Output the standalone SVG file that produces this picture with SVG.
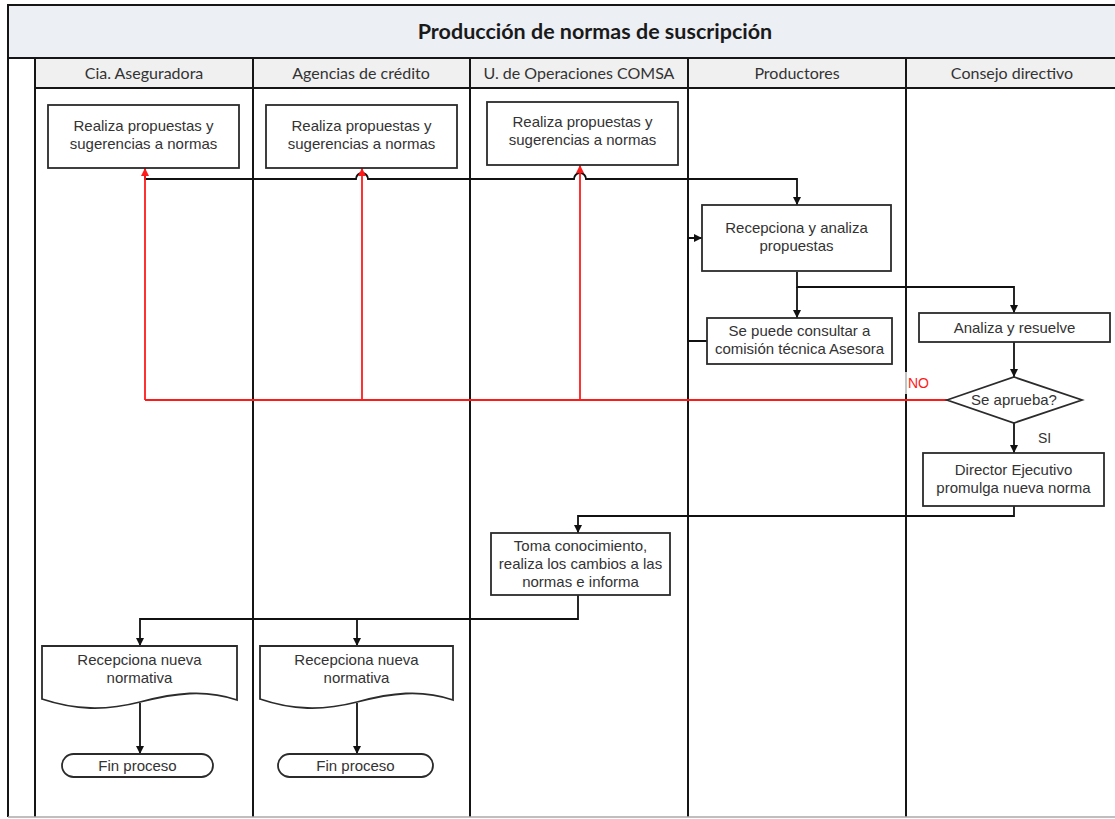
<svg xmlns="http://www.w3.org/2000/svg" width="1115" height="819" viewBox="0 0 1115 819">
<style>
.lane{stroke:#151515;stroke-width:2;fill:none}
.hdr{fill:#f0f0f0;stroke:#151515;stroke-width:2}
.htxt{font-family:Lato,"Liberation Sans",sans-serif;font-size:16px;fill:#333;text-anchor:middle}
.box{fill:#fff;stroke:#2b2b2b;stroke-width:1.8}
.t{font-family:"Liberation Sans",Arial,sans-serif;font-size:15px;fill:#333;text-anchor:middle}
.c{fill:none;stroke:#111;stroke-width:1.8}
.r{fill:none;stroke:#ff1a1a;stroke-width:1.8}
</style>
<defs>
<marker id="ab" viewBox="0 0 10 10" refX="10" refY="5" markerWidth="8" markerHeight="8" markerUnits="userSpaceOnUse" orient="auto"><path d="M0,0 L10,5 L0,10 Z" fill="#111"/></marker>
<marker id="ar" viewBox="0 0 10 10" refX="10" refY="5" markerWidth="8" markerHeight="8" markerUnits="userSpaceOnUse" orient="auto"><path d="M0,0 L10,5 L0,10 Z" fill="#ff1a1a"/></marker>
</defs>
<rect width="1115" height="819" fill="#fff"/>
<g id="frame">
<rect x="8" y="5" width="1120" height="53" fill="#eceff4" stroke="#151515" stroke-width="2"/>
<text x="595" y="39" font-family="Lato,'Liberation Sans',sans-serif" font-size="21.5" font-weight="bold" fill="#1a1a1a" text-anchor="middle">Producción de normas de suscripción</text>
<rect class="hdr" x="35" y="58" width="218" height="30"/>
<rect class="hdr" x="253" y="58" width="217" height="30"/>
<rect class="hdr" x="470" y="58" width="218" height="30"/>
<rect class="hdr" x="688" y="58" width="218" height="30"/>
<rect class="hdr" x="906" y="58" width="220" height="30"/>
<text class="htxt" x="144" y="79">Cia. Aseguradora</text>
<text class="htxt" x="361" y="79">Agencias de crédito</text>
<text class="htxt" x="579" y="79">U. de Operaciones COMSA</text>
<text class="htxt" x="797" y="79">Productores</text>
<text class="htxt" x="1012" y="79">Consejo directivo</text>
<path class="lane" d="M8,5 V817 M35,58 V817 M253,58 V817 M470,58 V817 M688,58 V817 M906,58 V817"/>
<path d="M8,817 H1115" stroke="#aaa" stroke-width="1.5"/>
</g>
<g id="connectors">
<path class="c" d="M145,168 V179 H356 A6,6 0 0 1 368,179 H574 A6,6 0 0 1 586,179 H797 V205" marker-end="url(#ab)"/>
<path class="c" d="M707,341 H688 V238 H702" marker-end="url(#ab)"/>
<path class="c" d="M797,272 V287 H1014 V313" marker-end="url(#ab)"/>
<path class="c" d="M797,287 V318" marker-end="url(#ab)"/>
<path class="c" d="M1014,342 V377" marker-end="url(#ab)"/>
<path class="c" d="M1014,423 V453" marker-end="url(#ab)"/>
<path class="c" d="M1014,506 V516 H578 V533" marker-end="url(#ab)"/>
<path class="c" d="M578,595 V619 H140 V646" marker-end="url(#ab)"/>
<path class="c" d="M357,619 V646" marker-end="url(#ab)"/>
<path class="c" d="M140,703 V754" marker-end="url(#ab)"/>
<path class="c" d="M357,703 V754" marker-end="url(#ab)"/>
<path class="r" d="M947,400 H145"/>
<path class="r" d="M145,400 V168" marker-end="url(#ar)"/>
<path class="r" d="M362,400 V168" marker-end="url(#ar)"/>
<path class="r" d="M580,400 V165" marker-end="url(#ar)"/>
<rect x="904" y="372" width="30" height="22" fill="#fff" opacity="0.75"/>
<text x="908" y="388" font-family="'Liberation Sans',Arial,sans-serif" font-size="14" fill="#ff1a1a">NO</text>
<text x="1038" y="443" font-family="'Liberation Sans',Arial,sans-serif" font-size="14" fill="#333">SI</text>
</g>
<g id="n1"><rect class="box" x="48" y="105" width="191" height="63"/><text class="t" x="143.5" y="131">Realiza propuestas y</text><text class="t" x="143.5" y="149">sugerencias a normas</text></g>
<g id="n2"><rect class="box" x="266" y="105" width="191" height="63"/><text class="t" x="361.5" y="131">Realiza propuestas y</text><text class="t" x="361.5" y="149">sugerencias a normas</text></g>
<g id="n3"><rect class="box" x="487" y="102" width="191" height="63"/><text class="t" x="582.5" y="127">Realiza propuestas y</text><text class="t" x="582.5" y="145">sugerencias a normas</text></g>
<g id="n4"><rect class="box" x="702" y="205" width="189" height="66"/><text class="t" x="796.5" y="233">Recepciona y analiza</text><text class="t" x="796.5" y="251">propuestas</text></g>
<g id="n5"><rect class="box" x="707" y="318" width="185" height="46"/><text class="t" x="799.5" y="336">Se puede consultar a</text><text class="t" x="799.5" y="354">comisión técnica Asesora</text></g>
<g id="n6"><rect class="box" x="919" y="313" width="191" height="29"/><text class="t" x="1014.5" y="333">Analiza y resuelve</text></g>
<g id="n7"><polygon class="box" points="947,400 1014,377 1082,400 1014,423"/><text class="t" x="1014" y="405">Se aprueba?</text></g>
<g id="n8"><rect class="box" x="923" y="453" width="181" height="53"/><text class="t" x="1013.5" y="475">Director Ejecutivo</text><text class="t" x="1013.5" y="493">promulga nueva norma</text></g>
<g id="n9"><rect class="box" x="491" y="533" width="179" height="62"/><text class="t" x="580.5" y="551">Toma conocimiento,</text><text class="t" x="580.5" y="569">realiza los cambios a las</text><text class="t" x="580.5" y="587">normas e informa</text></g>
<g id="n10"><path class="box" d="M42,646 H237 V700 C205,689 175,693 140,702 C105,711 75,710 42,699 Z"/><text class="t" x="139.5" y="665">Recepciona nueva</text><text class="t" x="139.5" y="683">normativa</text></g>
<g id="n11"><path class="box" d="M260,646 H453 V700 C421,689 391,693 357,702 C322,711 292,710 260,699 Z"/><text class="t" x="356.5" y="665">Recepciona nueva</text><text class="t" x="356.5" y="683">normativa</text></g>
<g id="n12"><rect class="box" x="62" y="754" width="151" height="23" rx="11.5"/><text class="t" x="137.5" y="771">Fin proceso</text></g>
<g id="n13"><rect class="box" x="278" y="754" width="155" height="23" rx="11.5"/><text class="t" x="355.5" y="771">Fin proceso</text></g>
</svg>
